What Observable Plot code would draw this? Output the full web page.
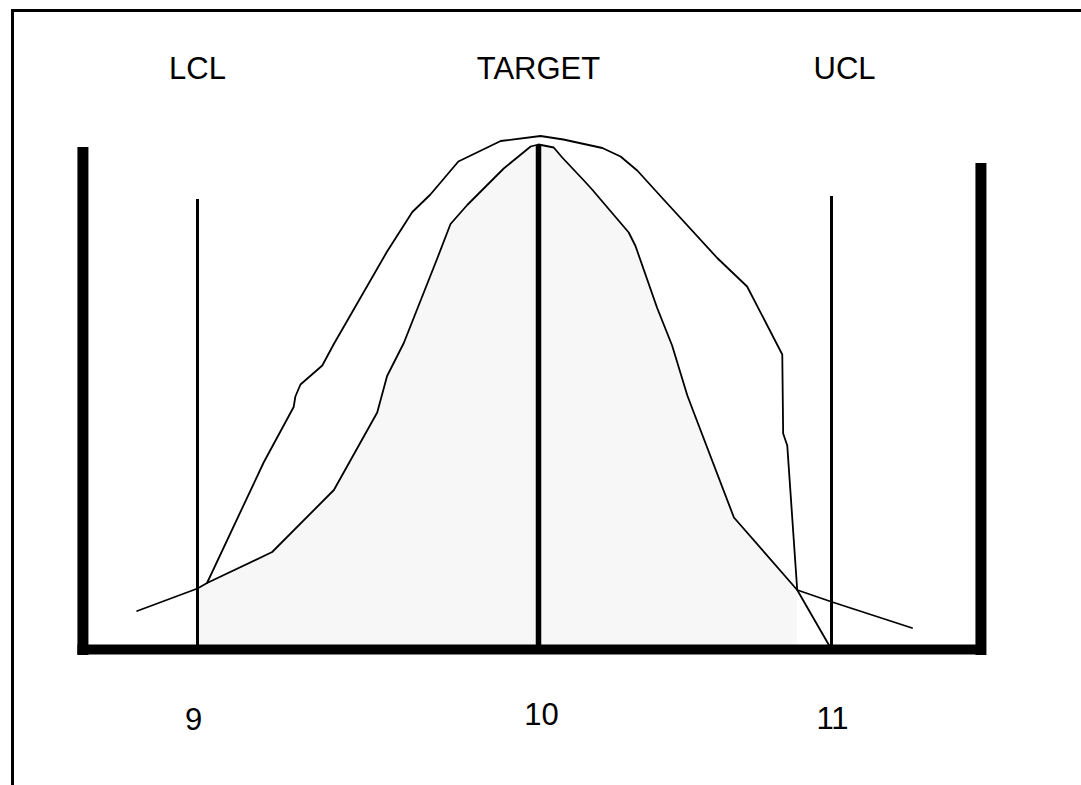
<!DOCTYPE html>
<html>
<head>
<meta charset="utf-8">
<script src="https://cdn.jsdelivr.net/npm/d3@7"></script>
<script src="https://cdn.jsdelivr.net/npm/@observablehq/plot@0.6"></script>
<style>
  html, body { margin: 0; padding: 0; background: #fff; overflow: hidden; }
</style>
</head>
<body>
<div id="chart"></div>
<script>
// Control limits (x values) and their labels
const limitValues = [9, 10, 11];
const limitNames = ["LCL", "TARGET", "UCL"];
const limitTops = [90, 100.8, 90.6];
const tickLabels = ["9", "10", "11"];

// Extent of the drawn axis (the thick walls) and the wall heights
const axisExtent = [8.664, 11.51];
const wallTops = [100.4, 97.2];

// Wide distribution (truncated at the limits)
const wideX = [9.028, 9.194, 9.282, 9.287, 9.302, 9.366, 9.399, 9.556, 9.630, 9.683, 9.765, 9.889,
  10.007, 10.085, 10.218, 10.280, 10.337, 10.427, 10.610, 10.712, 10.832, 10.835, 10.849, 10.883, 11.0];
const wideY = [13.3, 37.4, 48.5, 50.6, 53.0, 56.8, 61.0, 79.6, 87.5, 91.0, 97.6, 101.7,
  102.7, 102.0, 100.3, 98.6, 95.8, 90.0, 78.3, 72.6, 59.0, 43.2, 40.8, 11.9, 0];

// Narrow distribution (with tails)
const narrowX = [8.823, 9.0, 9.028, 9.219, 9.400, 9.527, 9.556, 9.605, 9.703, 9.742, 9.791, 9.898, 9.977, 10.0,
  10.052, 10.081, 10.155, 10.183, 10.308, 10.331, 10.405, 10.456, 10.508, 10.530, 10.667, 10.883, 11.002, 11.275];
const narrowY = [7.7, 12.2, 13.3, 19.5, 31.9, 47.4, 54.7, 61.3, 78.2, 85.1, 88.9, 96.2, 100.6, 101.0,
  100.4, 98.4, 93.8, 92.0, 83.4, 80.7, 68.3, 60.8, 50.8, 47.4, 26.4, 11.9, 9.5, 4.3];

const wide = wideX.map((x, i) => ({x, y: wideY[i]}));
const narrow = narrowX.map((x, i) => ({x, y: narrowY[i]}));
const limits = limitValues.map((v, i) => ({v, name: limitNames[i], top: limitTops[i], tick: tickLabels[i]}));
const walls = axisExtent.map((v, i) => ({v, top: wallTops[i]}));

const font = "'Liberation Sans', Arial, Helvetica, sans-serif";

// The printed axis is slightly uneven: the 9–10 interval is wider than 10–11.
const warp = v => v <= 10 ? (v - 9) * 341 : 341 + (v - 10) * 293;

const chart = Plot.plot({
  width: 1081,
  height: 785,
  marginTop: 10,
  marginLeft: 12,
  marginRight: 0,
  marginBottom: 0,
  x: {transform: warp, domain: [0, 634], range: [197, 831], axis: null},
  y: {domain: [0, 100], range: [649, 149], axis: null},
  style: {fontFamily: font, background: "white", color: "black"},
  marks: [
    Plot.frame({anchor: "top", stroke: "black", strokeWidth: 3}),
    Plot.frame({anchor: "left", stroke: "black", strokeWidth: 3}),
    // faint stipple shading under the narrow curve
    Plot.areaY(narrow.filter(d => d.x >= 9 && d.x <= 10.9), {x: "x", y: "y", fill: "#f7f7f7"}),
    // control limit lines
    Plot.ruleX(limits.filter(d => d.name !== "TARGET"), {x: "v", y1: 0, y2: "top", stroke: "black", strokeWidth: 3}),
    Plot.ruleX(limits.filter(d => d.name === "TARGET"), {x: "v", y1: 0, y2: "top", stroke: "black", strokeWidth: 5.5}),
    // curves
    Plot.line(wide, {x: "x", y: "y", stroke: "black", strokeWidth: 1.8}),
    Plot.line(narrow, {x: "x", y: "y", stroke: "black", strokeWidth: 1.8}),
    // thick walls and baseline
    Plot.ruleX(walls, {x: "v", y1: -1.2, y2: "top", stroke: "black", strokeWidth: 11}),
    Plot.ruleY([0], {x1: axisExtent[0], x2: axisExtent[1], stroke: "black", strokeWidth: 10, strokeLinecap: "square"}),
    // labels
    Plot.text(limits.filter(d => d.name !== "UCL"), {x: "v", y: 116, text: "name", fontSize: 31, fill: "black"}),
    Plot.text(limits.filter(d => d.name === "UCL"), {x: "v", y: 116, text: "name", fontSize: 31, fill: "black", dx: 13}),
    Plot.text(limits.filter(d => d.tick === "9"), {x: "v", y: -14.2, text: "tick", fontSize: 31, fill: "black", dx: -4}),
    Plot.text(limits.filter(d => d.tick === "10"), {x: "v", y: -13.2, text: "tick", fontSize: 31, fill: "black", dx: 3}),
    Plot.text(limits.filter(d => d.tick === "11"), {x: "v", y: -14, text: "tick", fontSize: 31, fill: "black", dx: 1})
  ]
});
document.getElementById("chart").appendChild(chart);
</script>
</body>
</html>
